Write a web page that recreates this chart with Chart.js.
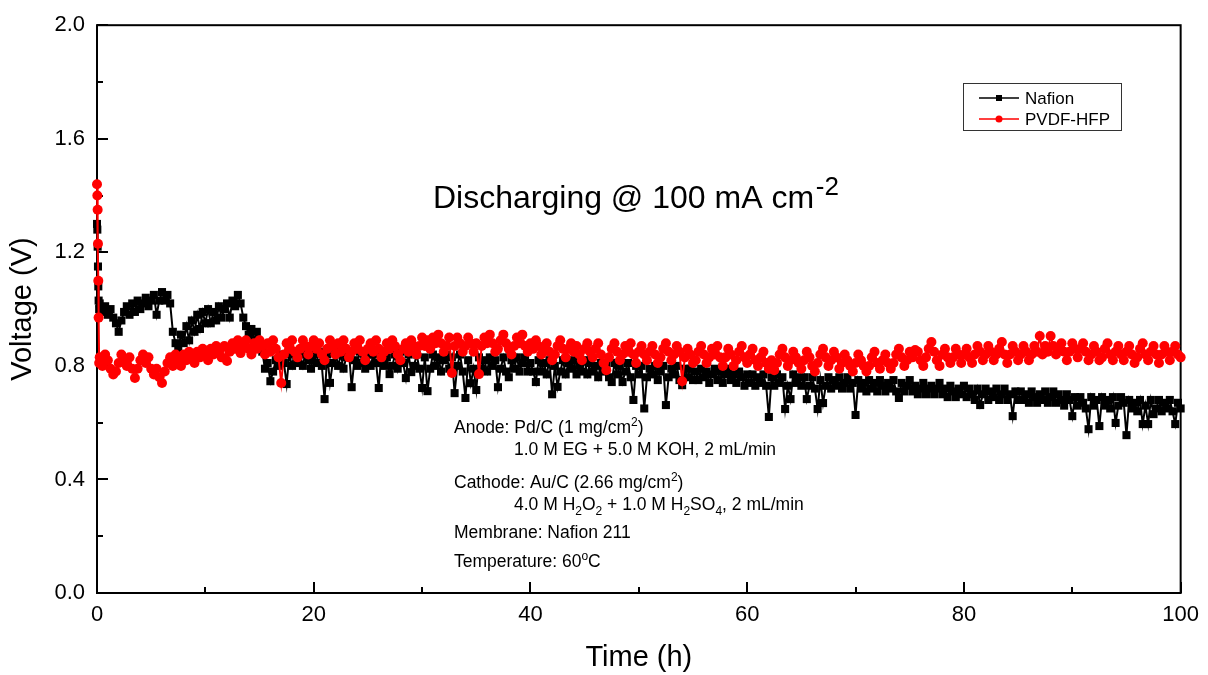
<!DOCTYPE html>
<html>
<head>
<meta charset="utf-8">
<title>Discharging @ 100 mA cm-2</title>
<script src="https://cdn.jsdelivr.net/npm/chart.js@4.4.1/dist/chart.umd.min.js"></script>
<style>
    html, body { margin: 0; padding: 0; background: #ffffff; }
    #wrap { width: 1208px; height: 675px; }
</style>
</head>
<body>
<div id="wrap"><canvas id="myChart" width="1208" height="675"></canvas></div>
<script>
// Global chart instance
let chartInstance = null;

const FONT = "'Liberation Sans', Arial, sans-serif";

// First minutes of the run (sharp start-up spike)
const startTimes = [0, 0.03, 0.06, 0.09, 0.12, 0.15, 0.2];
const nafionStart = [1.30, 1.28, 1.22, 1.15, 1.08, 1.03, 1.00];
const pvdfStart = [1.44, 1.40, 1.35, 1.23, 1.10, 0.97, 0.81];

// Sampling times after start-up (h)
const gridTimes = [
    0.25, 0.5, 0.75, 1, 1.25, 1.5, 1.75, 2, 2.25, 2.5, 2.75, 3, 3.25, 3.5, 3.75, 4, 4.25, 4.5, 4.75, 5,
    5.25, 5.5, 5.75, 6, 6.25, 6.5, 6.75, 7, 7.25, 7.5, 7.75, 8, 8.25, 8.5, 8.75, 9, 9.25, 9.5, 9.75, 10,
    10.25, 10.5, 10.75, 11, 11.25, 11.5, 11.75, 12, 12.25, 12.5, 12.75, 13, 13.25, 13.5, 13.75, 14, 14.25, 14.5, 14.75, 15,
    15.25, 15.5, 15.75, 16, 16.25, 16.5, 16.75, 17, 17.25, 17.5, 17.75, 18, 18.25, 18.5, 18.75, 19, 19.25, 19.5, 19.75, 20,
    20.25, 20.5, 20.75, 21, 21.25, 21.5, 21.75, 22, 22.25, 22.5, 22.75, 23, 23.25, 23.5, 23.75, 24, 24.25, 24.5, 24.75, 25,
    25.25, 25.5, 25.75, 26, 26.25, 26.5, 26.75, 27, 27.25, 27.5, 27.75, 28, 28.25, 28.5, 28.75, 29, 29.25, 29.5, 29.75, 30,
    30.25, 30.5, 30.75, 31, 31.25, 31.5, 31.75, 32, 32.25, 32.5, 32.75, 33, 33.25, 33.5, 33.75, 34, 34.25, 34.5, 34.75, 35,
    35.25, 35.5, 35.75, 36, 36.25, 36.5, 36.75, 37, 37.25, 37.5, 37.75, 38, 38.25, 38.5, 38.75, 39, 39.25, 39.5, 39.75, 40,
    40.25, 40.5, 40.75, 41, 41.25, 41.5, 41.75, 42, 42.25, 42.5, 42.75, 43, 43.25, 43.5, 43.75, 44, 44.25, 44.5, 44.75, 45,
    45.25, 45.5, 45.75, 46, 46.25, 46.5, 46.75, 47, 47.25, 47.5, 47.75, 48, 48.25, 48.5, 48.75, 49, 49.25, 49.5, 49.75, 50,
    50.25, 50.5, 50.75, 51, 51.25, 51.5, 51.75, 52, 52.25, 52.5, 52.75, 53, 53.25, 53.5, 53.75, 54, 54.25, 54.5, 54.75, 55,
    55.25, 55.5, 55.75, 56, 56.25, 56.5, 56.75, 57, 57.25, 57.5, 57.75, 58, 58.25, 58.5, 58.75, 59, 59.25, 59.5, 59.75, 60,
    60.25, 60.5, 60.75, 61, 61.25, 61.5, 61.75, 62, 62.25, 62.5, 62.75, 63, 63.25, 63.5, 63.75, 64, 64.25, 64.5, 64.75, 65,
    65.25, 65.5, 65.75, 66, 66.25, 66.5, 66.75, 67, 67.25, 67.5, 67.75, 68, 68.25, 68.5, 68.75, 69, 69.25, 69.5, 69.75, 70,
    70.25, 70.5, 70.75, 71, 71.25, 71.5, 71.75, 72, 72.25, 72.5, 72.75, 73, 73.25, 73.5, 73.75, 74, 74.25, 74.5, 74.75, 75,
    75.25, 75.5, 75.75, 76, 76.25, 76.5, 76.75, 77, 77.25, 77.5, 77.75, 78, 78.25, 78.5, 78.75, 79, 79.25, 79.5, 79.75, 80,
    80.25, 80.5, 80.75, 81, 81.25, 81.5, 81.75, 82, 82.25, 82.5, 82.75, 83, 83.25, 83.5, 83.75, 84, 84.25, 84.5, 84.75, 85,
    85.25, 85.5, 85.75, 86, 86.25, 86.5, 86.75, 87, 87.25, 87.5, 87.75, 88, 88.25, 88.5, 88.75, 89, 89.25, 89.5, 89.75, 90,
    90.25, 90.5, 90.75, 91, 91.25, 91.5, 91.75, 92, 92.25, 92.5, 92.75, 93, 93.25, 93.5, 93.75, 94, 94.25, 94.5, 94.75, 95,
    95.25, 95.5, 95.75, 96, 96.25, 96.5, 96.75, 97, 97.25, 97.5, 97.75, 98, 98.25, 98.5, 98.75, 99, 99.25, 99.5, 99.75, 100
];

// Nafion cell voltage (V)
const nafionVoltage = [
    1.02, 0.99, 1.01, 0.98, 1.00, 0.97, 0.95, 0.92, 0.96, 0.99, 1.01, 0.98, 1.02, 0.99, 1.03, 1.00, 1.02, 1.04, 1.01, 1.03,
    1.05, 0.98, 1.03, 1.06, 1.03, 1.05, 1.02, 0.92, 0.88, 0.86, 0.91, 0.88, 0.94, 0.89, 0.96, 0.92, 0.98, 0.93, 0.99, 0.95,
    1.00, 0.95, 0.99, 0.96, 1.01, 0.97, 1.00, 1.02, 0.97, 1.03, 1.01, 1.05, 1.02, 0.97, 0.94, 0.91, 0.93, 0.89, 0.92, 0.87,
    0.85, 0.79, 0.81, 0.746, 0.78, 0.82, 0.80, 0.84, 0.81, 0.736, 0.84, 0.80, 0.85, 0.81, 0.84, 0.80, 0.85, 0.82, 0.79, 0.84,
    0.81, 0.85, 0.80, 0.683, 0.84, 0.74, 0.81, 0.85, 0.80, 0.84, 0.79, 0.83, 0.85, 0.725, 0.82, 0.80, 0.85, 0.81, 0.79, 0.84,
    0.80, 0.84, 0.81, 0.722, 0.85, 0.80, 0.83, 0.771, 0.80, 0.84, 0.79, 0.85, 0.81, 0.757, 0.84, 0.778, 0.80, 0.84, 0.79, 0.722,
    0.83, 0.711, 0.79, 0.84, 0.80, 0.83, 0.78, 0.82, 0.84, 0.79, 0.83, 0.704, 0.80, 0.84, 0.78, 0.687, 0.82, 0.739, 0.79, 0.715,
    0.83, 0.79, 0.82, 0.78, 0.83, 0.80, 0.82, 0.725, 0.79, 0.83, 0.78, 0.76, 0.82, 0.79, 0.83, 0.78, 0.81, 0.83, 0.78, 0.81,
    0.78, 0.743, 0.82, 0.78, 0.81, 0.77, 0.82, 0.70, 0.80, 0.726, 0.78, 0.82, 0.77, 0.81, 0.79, 0.82, 0.77, 0.80, 0.78, 0.82,
    0.77, 0.81, 0.78, 0.80, 0.76, 0.81, 0.78, 0.80, 0.76, 0.743, 0.81, 0.77, 0.80, 0.743, 0.78, 0.81, 0.76, 0.68, 0.80, 0.77,
    0.80, 0.65, 0.76, 0.79, 0.77, 0.80, 0.75, 0.78, 0.80, 0.662, 0.76, 0.79, 0.77, 0.80, 0.75, 0.732, 0.79, 0.76, 0.79, 0.75,
    0.78, 0.75, 0.79, 0.76, 0.78, 0.74, 0.77, 0.79, 0.75, 0.78, 0.74, 0.77, 0.79, 0.75, 0.77, 0.74, 0.78, 0.76, 0.73, 0.77,
    0.74, 0.77, 0.73, 0.76, 0.74, 0.77, 0.73, 0.62, 0.76, 0.73, 0.77, 0.74, 0.76, 0.648, 0.73, 0.683, 0.77, 0.74, 0.76, 0.73,
    0.76, 0.683, 0.73, 0.76, 0.72, 0.648, 0.75, 0.669, 0.73, 0.76, 0.72, 0.75, 0.73, 0.76, 0.72, 0.74, 0.76, 0.72, 0.74, 0.627,
    0.75, 0.72, 0.74, 0.71, 0.75, 0.72, 0.74, 0.71, 0.75, 0.73, 0.71, 0.74, 0.72, 0.75, 0.71, 0.687, 0.74, 0.71, 0.73, 0.75,
    0.71, 0.73, 0.70, 0.72, 0.74, 0.70, 0.72, 0.73, 0.70, 0.72, 0.74, 0.70, 0.72, 0.69, 0.73, 0.71, 0.69, 0.72, 0.70, 0.73,
    0.69, 0.72, 0.70, 0.68, 0.72, 0.662, 0.70, 0.72, 0.68, 0.71, 0.69, 0.72, 0.68, 0.70, 0.72, 0.68, 0.70, 0.623, 0.71, 0.68,
    0.71, 0.68, 0.70, 0.67, 0.71, 0.69, 0.67, 0.70, 0.68, 0.71, 0.67, 0.69, 0.71, 0.67, 0.70, 0.68, 0.66, 0.70, 0.68, 0.623,
    0.69, 0.66, 0.69, 0.67, 0.65, 0.577, 0.69, 0.66, 0.68, 0.588, 0.69, 0.66, 0.68, 0.65, 0.69, 0.599, 0.66, 0.69, 0.67, 0.556,
    0.68, 0.65, 0.67, 0.64, 0.68, 0.595, 0.66, 0.595, 0.68, 0.63, 0.65, 0.68, 0.64, 0.67, 0.65, 0.68, 0.64, 0.595, 0.67, 0.65
];

// PVDF-HFP cell voltage (V)
const pvdfVoltage = [
    0.83, 0.80, 0.84, 0.82, 0.79, 0.77, 0.78, 0.81, 0.84, 0.82, 0.80, 0.83, 0.79, 0.757, 0.79, 0.82, 0.84, 0.81, 0.83, 0.79,
    0.77, 0.79, 0.76, 0.74, 0.78, 0.81, 0.83, 0.80, 0.84, 0.82, 0.80, 0.84, 0.82, 0.85, 0.83, 0.81, 0.85, 0.83, 0.86, 0.84,
    0.82, 0.86, 0.84, 0.87, 0.85, 0.83, 0.87, 0.817, 0.85, 0.88, 0.86, 0.89, 0.845, 0.87, 0.89, 0.86, 0.84, 0.88, 0.86, 0.89,
    0.87, 0.84, 0.88, 0.85, 0.89, 0.86, 0.83, 0.74, 0.84, 0.88, 0.86, 0.89, 0.85, 0.83, 0.86, 0.89, 0.87, 0.84, 0.87, 0.89,
    0.86, 0.88, 0.84, 0.82, 0.86, 0.89, 0.87, 0.84, 0.88, 0.85, 0.89, 0.86, 0.83, 0.85, 0.88, 0.86, 0.89, 0.85, 0.82, 0.86,
    0.88, 0.85, 0.89, 0.86, 0.83, 0.85, 0.88, 0.86, 0.89, 0.87, 0.84, 0.82, 0.86, 0.88, 0.85, 0.89, 0.87, 0.84, 0.87, 0.90,
    0.87, 0.89, 0.86, 0.90, 0.88, 0.91, 0.88, 0.85, 0.87, 0.90, 0.775, 0.87, 0.90, 0.88, 0.85, 0.87, 0.90, 0.88, 0.85, 0.88,
    0.771, 0.87, 0.90, 0.88, 0.91, 0.88, 0.85, 0.86, 0.89, 0.91, 0.88, 0.86, 0.84, 0.87, 0.90, 0.88, 0.91, 0.87, 0.85, 0.88,
    0.86, 0.89, 0.87, 0.84, 0.86, 0.88, 0.85, 0.82, 0.84, 0.87, 0.89, 0.86, 0.83, 0.86, 0.88, 0.85, 0.87, 0.84, 0.82, 0.86,
    0.88, 0.85, 0.83, 0.86, 0.88, 0.84, 0.81, 0.785, 0.83, 0.86, 0.88, 0.85, 0.82, 0.84, 0.87, 0.85, 0.88, 0.84, 0.81, 0.85,
    0.87, 0.84, 0.82, 0.85, 0.87, 0.84, 0.81, 0.83, 0.86, 0.88, 0.85, 0.82, 0.84, 0.87, 0.85, 0.746, 0.83, 0.86, 0.84, 0.81,
    0.82, 0.85, 0.87, 0.84, 0.81, 0.83, 0.86, 0.84, 0.87, 0.83, 0.80, 0.83, 0.86, 0.84, 0.80, 0.82, 0.85, 0.87, 0.83, 0.81,
    0.84, 0.86, 0.82, 0.80, 0.83, 0.85, 0.81, 0.79, 0.82, 0.785, 0.81, 0.84, 0.86, 0.83, 0.80, 0.82, 0.85, 0.83, 0.81, 0.79,
    0.82, 0.85, 0.83, 0.80, 0.78, 0.81, 0.84, 0.86, 0.83, 0.80, 0.82, 0.85, 0.83, 0.79, 0.81, 0.84, 0.82, 0.80, 0.78, 0.81,
    0.84, 0.82, 0.80, 0.78, 0.80, 0.83, 0.85, 0.81, 0.79, 0.82, 0.84, 0.81, 0.79, 0.81, 0.84, 0.86, 0.83, 0.80, 0.82, 0.85,
    0.83, 0.856, 0.85, 0.82, 0.80, 0.83, 0.86, 0.884, 0.85, 0.82, 0.80, 0.84, 0.86, 0.83, 0.81, 0.83, 0.86, 0.84, 0.81, 0.84,
    0.86, 0.83, 0.81, 0.84, 0.87, 0.85, 0.82, 0.84, 0.87, 0.85, 0.82, 0.84, 0.86, 0.884, 0.84, 0.81, 0.84, 0.87, 0.85, 0.82,
    0.84, 0.87, 0.85, 0.82, 0.84, 0.87, 0.85, 0.905, 0.84, 0.87, 0.85, 0.905, 0.87, 0.84, 0.86, 0.88, 0.85, 0.82, 0.85, 0.88,
    0.86, 0.83, 0.86, 0.88, 0.85, 0.82, 0.84, 0.87, 0.85, 0.82, 0.83, 0.86, 0.88, 0.84, 0.82, 0.85, 0.87, 0.84, 0.82, 0.85,
    0.87, 0.84, 0.81, 0.83, 0.86, 0.88, 0.84, 0.82, 0.85, 0.87, 0.84, 0.81, 0.84, 0.87, 0.85, 0.82, 0.85, 0.87, 0.84, 0.83
];

// Axis ticks
const xTicks = [0, 20, 40, 60, 80, 100];
const yTicks = [0, 0.4, 0.8, 1.2, 1.6, 2.0];

// Legend labels
const seriesNames = ["Nafion", "PVDF-HFP"];

// Operating conditions written inside the plot
const noteLines = [
    { x: 454, y: 433, parts: [["Anode: Pd/C (1 mg/cm"], ["2", "sup"], [")"]] },
    { x: 514, y: 455, parts: [["1.0 M EG + 5.0 M KOH, 2 mL/min"]] },
    { x: 454, y: 488, parts: [["Cathode: Au/C (2.66 mg/cm"], ["2", "sup"], [")"]] },
    { x: 514, y: 510, parts: [["4.0 M H"], ["2", "sub"], ["O"], ["2", "sub"], [" + 1.0 M H"], ["2", "sub"], ["SO"], ["4", "sub"], [", 2 mL/min"]] },
    { x: 454, y: 538, parts: [["Membrane: Nafion 211"]] },
    { x: 454, y: 567, parts: [["Temperature: 60"], ["o", "sup"], ["C"]] }
];

document.addEventListener("DOMContentLoaded", () => {
    crearGrafica();
});

/**
 * Builds {x, y} points from a times list and a values list
 */
function armarPuntos(times, values) {
    return times.map((t, i) => ({ x: t, y: values[i] }));
}

/**
 * Draws a line of text with superscripts / subscripts
 * part = [text, mode, optional size]
 */
function textoRico(ctx, parts, x, y, size) {
    let cx = x;
    parts.forEach(p => {
        const text = p[0];
        const mode = p[1];
        const fs = p[2] || (mode ? Math.round(size * 0.7) : size);
        let dy = 0;
        if (mode === "sup") dy = -size * 0.4;
        if (mode === "sub") dy = size * 0.3;
        ctx.font = fs + "px " + FONT;
        ctx.fillText(text, cx, y + dy);
        cx += ctx.measureText(text).width;
    });
}

/**
 * Frame around the plot and inward ticks (drawn under the data)
 */
const marcoPlugin = {
    id: "marco",
    beforeDatasetsDraw(chart) {
        const { ctx, chartArea: a, scales } = chart;
        ctx.save();
        ctx.strokeStyle = "#000";
        ctx.lineWidth = 2;
        ctx.strokeRect(a.left, a.top, a.right - a.left, a.bottom - a.top);

        ctx.beginPath();
        for (let i = 0; i < xTicks.length; i++) {
            const px = Math.round(scales.x.getPixelForValue(xTicks[i]));
            ctx.moveTo(px, a.bottom);
            ctx.lineTo(px, a.bottom - 11);
            if (i < xTicks.length - 1) {
                const mx = Math.round(scales.x.getPixelForValue((xTicks[i] + xTicks[i + 1]) / 2));
                ctx.moveTo(mx, a.bottom);
                ctx.lineTo(mx, a.bottom - 6);
            }
        }
        for (let i = 0; i < yTicks.length; i++) {
            const py = Math.round(scales.y.getPixelForValue(yTicks[i]));
            ctx.moveTo(a.left, py);
            ctx.lineTo(a.left + 11, py);
            if (i < yTicks.length - 1) {
                const my = Math.round(scales.y.getPixelForValue((yTicks[i] + yTicks[i + 1]) / 2));
                ctx.moveTo(a.left, my);
                ctx.lineTo(a.left + 6, my);
            }
        }
        ctx.stroke();
        ctx.restore();
    }
};

/**
 * Legend box, heading and notes
 */
const textosPlugin = {
    id: "textos",
    afterDraw(chart) {
        const { ctx } = chart;
        ctx.save();

        // Legend
        ctx.strokeStyle = "#333";
        ctx.lineWidth = 1;
        ctx.strokeRect(963.5, 83.5, 158, 47);
        const filas = [98, 119];
        chart.data.datasets.forEach((ds, i) => {
            const y = filas[i];
            ctx.strokeStyle = ds.borderColor;
            ctx.lineWidth = 1.5;
            ctx.beginPath();
            ctx.moveTo(979, y);
            ctx.lineTo(1019, y);
            ctx.stroke();
            ctx.fillStyle = ds.backgroundColor;
            if (ds.pointStyle === "rect") {
                ctx.fillRect(996, y - 3, 6, 6);
            } else {
                ctx.beginPath();
                ctx.arc(999, y, 3.5, 0, Math.PI * 2);
                ctx.fill();
            }
            ctx.fillStyle = "#000";
            ctx.font = "17px " + FONT;
            ctx.textBaseline = "middle";
            ctx.fillText(seriesNames[i], 1025, y + 1);
        });

        // Heading
        ctx.textBaseline = "alphabetic";
        ctx.fillStyle = "#000";
        textoRico(ctx, [["Discharging @ 100 mA cm"], [" ", null, 6], ["-2", "sup", 26]], 433, 208, 32);

        // Notes
        noteLines.forEach(l => textoRico(ctx, l.parts, l.x, l.y, 17.5));
        ctx.restore();
    }
};

/**
 * Creates the chart
 */
function crearGrafica() {
    const ctx = document.getElementById("myChart");
    if (!ctx) return;

    if (chartInstance) {
        chartInstance.destroy();
    }

    chartInstance = new Chart(ctx.getContext("2d"), {
        type: "line",
        data: {
            datasets: [
                {
                    label: seriesNames[0],
                    data: armarPuntos(startTimes.concat(gridTimes), nafionStart.concat(nafionVoltage)),
                    borderColor: "#000000",
                    backgroundColor: "#000000",
                    borderWidth: 2,
                    pointStyle: "rect",
                    pointRadius: 5.7,
                    pointBorderWidth: 0,
                    tension: 0,
                    clip: false,
                    order: 2
                },
                {
                    label: seriesNames[1],
                    data: armarPuntos(startTimes.concat(gridTimes), pvdfStart.concat(pvdfVoltage)),
                    borderColor: "#ff0000",
                    backgroundColor: "#ff0000",
                    borderWidth: 2,
                    pointStyle: "circle",
                    pointRadius: 5,
                    pointBorderWidth: 0,
                    tension: 0,
                    clip: false,
                    order: 1
                }
            ]
        },
        options: {
            responsive: false,
            animation: false,
            events: [],
            layout: { padding: { left: 0, top: 25, right: 21, bottom: 0 } },
            plugins: {
                legend: { display: false },
                tooltip: { enabled: false }
            },
            scales: {
                x: {
                    type: "linear",
                    min: 0,
                    max: 100,
                    afterFit: s => { s.height = 82; },
                    afterBuildTicks: s => { s.ticks = xTicks.map(v => ({ value: v })); },
                    grid: { display: false, drawTicks: false },
                    border: { display: false },
                    ticks: {
                        padding: 9,
                        color: "#000",
                        font: { family: FONT, size: 22 },
                        callback: v => String(v)
                    },
                    title: {
                        display: true,
                        text: "Time (h)",
                        color: "#000",
                        font: { family: FONT, size: 29 },
                        padding: { top: 0, bottom: 0 }
                    }
                },
                y: {
                    min: 0,
                    max: 2.0,
                    afterFit: s => { s.width = 97; },
                    afterBuildTicks: s => { s.ticks = yTicks.map(v => ({ value: v })); },
                    grid: { display: false, drawTicks: false },
                    border: { display: false },
                    ticks: {
                        padding: 12,
                        color: "#000",
                        font: { family: FONT, size: 22 },
                        callback: v => Number(v).toFixed(1)
                    },
                    title: {
                        display: true,
                        text: "Voltage (V)",
                        color: "#000",
                        font: { family: FONT, size: 29 },
                        padding: { top: 6, bottom: 0 }
                    }
                }
            }
        },
        plugins: [marcoPlugin, textosPlugin]
    });
}
</script>
</body>
</html>
